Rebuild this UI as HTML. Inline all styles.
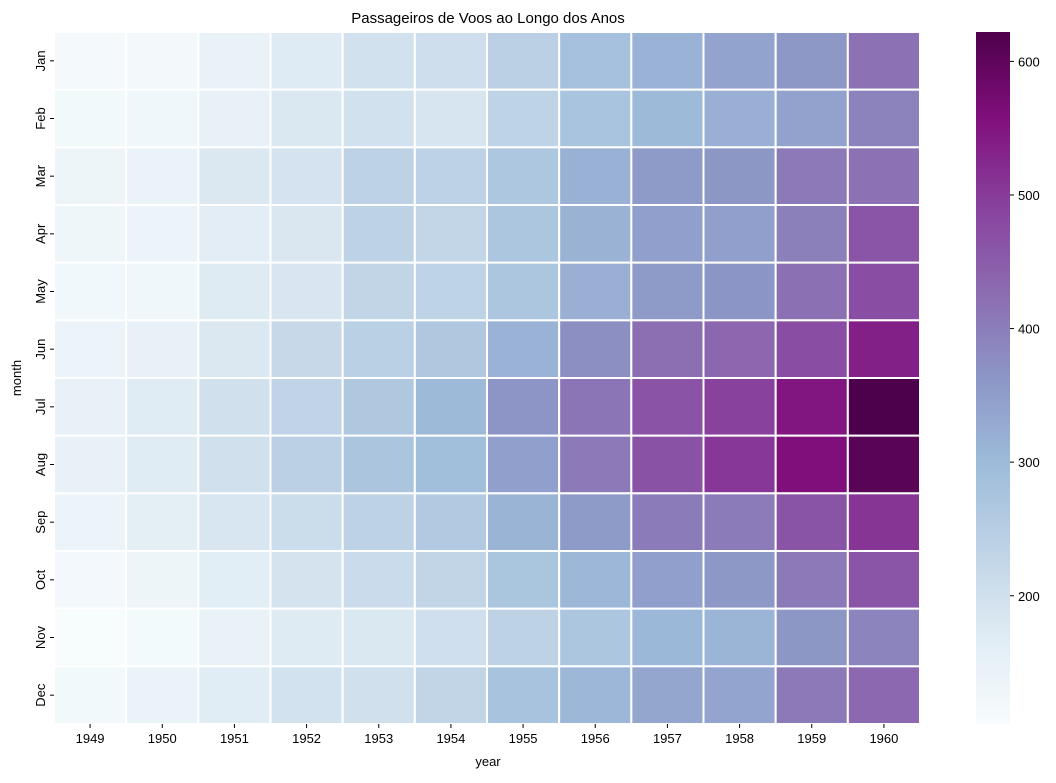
<!DOCTYPE html>
<html><head><meta charset="utf-8"><style>
body{margin:0;background:#fff;}
text{font-family:"Liberation Sans",sans-serif;font-size:13px;fill:#000;}
</style></head><body>
<svg id="chart" width="1056" height="778">
<defs><linearGradient id="cg" x1="0" y1="1" x2="0" y2="0"></linearGradient></defs>
<text x="488" y="23" text-anchor="middle" style="font-size:15px">Passageiros de Voos ao Longo dos Anos</text>
<g id="cells"></g><g id="xt"></g><g id="yt"></g>
<text x="488" y="766" text-anchor="middle">year</text>
<text transform="translate(21,378) rotate(-90)" text-anchor="middle">month</text>
<rect x="976" y="32" width="34" height="692" fill="url(#cg)"/>
<g id="cb"></g>
</svg>
<script>
const years=["1949","1950","1951","1952","1953","1954","1955","1956","1957","1958","1959","1960"];
const months=["Jan","Feb","Mar","Apr","May","Jun","Jul","Aug","Sep","Oct","Nov","Dec"];
const p1949=[112,118,132,129,121,135,148,148,136,119,104,118];
const p1950=[115,126,141,135,125,149,170,170,158,133,114,140];
const p1951=[145,150,178,163,172,178,199,199,184,162,146,166];
const p1952=[171,180,193,181,183,218,230,242,209,191,172,194];
const p1953=[196,196,236,235,229,243,264,272,237,211,180,201];
const p1954=[204,188,235,227,234,264,302,293,259,229,203,229];
const p1955=[242,233,267,269,270,315,364,347,312,274,237,278];
const p1956=[284,277,317,313,318,374,413,405,355,306,271,306];
const p1957=[315,301,356,348,355,422,465,467,404,347,305,336];
const p1958=[340,318,362,348,363,435,491,505,404,359,310,337];
const p1959=[360,342,406,396,420,472,548,559,463,407,362,405];
const p1960=[417,391,419,461,472,535,622,606,508,461,390,432];
const cbTicks=[200,300,400,500,600];
const series=[p1949,p1950,p1951,p1952,p1953,p1954,p1955,p1956,p1957,p1958,p1959,p1960];
const NS="http://www.w3.org/2000/svg";
const L=54,R=920,T=32,B=724;
const cw=(R-L)/years.length, ch=(B-T)/months.length;
const all=series.flat(); const vmin=Math.min(...all), vmax=Math.max(...all);
const stops=["#f7fcfd","#e0ecf4","#bfd3e6","#9ebcda","#8c96c6","#8c6bb1","#88419d","#810f7c","#4d004b"];
function hex(h){return [1,3,5].map(i=>parseInt(h.substr(i,2),16));}
function color(v){let t=(v-vmin)/(vmax-vmin);t=Math.max(0,Math.min(1,t))*(stops.length-1);
 const i=Math.min(Math.floor(t),stops.length-2),f=t-i;const a=hex(stops[i]),b=hex(stops[i+1]);
 return "rgb("+a.map((x,k)=>Math.round(x+(b[k]-x)*f)).join(",")+")";}
function mk(tag,attrs,parent){const e=document.createElementNS(NS,tag);for(const k in attrs)e.setAttribute(k,attrs[k]);parent.appendChild(e);return e;}
const cells=document.getElementById('cells');
series.forEach((col,ci)=>col.forEach((v,ri)=>{
 const r=mk('rect',{x:L+ci*cw,y:T+ri*ch,width:cw,height:ch,fill:color(v),stroke:'#fff','stroke-width':2},cells);
 
 
}));
const xt=document.getElementById('xt');
years.forEach((y,i)=>{const x=L+(i+.5)*cw;
 mk('line',{x1:x,x2:x,y1:B,y2:B+4,stroke:'#000'},xt);
 const t=mk('text',{x:x,y:B+19,'text-anchor':'middle'},xt);t.textContent=y;
 
 });
const yt=document.getElementById('yt');
months.forEach((m,i)=>{const y=T+(i+.5)*ch;
 mk('line',{x1:L-4,x2:L,y1:y,y2:y,stroke:'#000'},yt);
 const t=mk('text',{transform:'translate('+(L-9)+','+y+') rotate(-90)','text-anchor':'middle'},yt);t.textContent=m;
 
 });
const g=document.getElementById('cg');
stops.forEach((s,i)=>mk('stop',{offset:(i/(stops.length-1)),'stop-color':s},g));
const cb=document.getElementById('cb');
cbTicks.forEach(v=>{const y=B-(v-vmin)/(vmax-vmin)*(B-T);
 mk('line',{x1:1010,x2:1014,y1:y,y2:y,stroke:'#000'},cb);
 const t=mk('text',{x:1018,y:y+5},cb);t.textContent=v;
 
 });
</script>
</body></html>
